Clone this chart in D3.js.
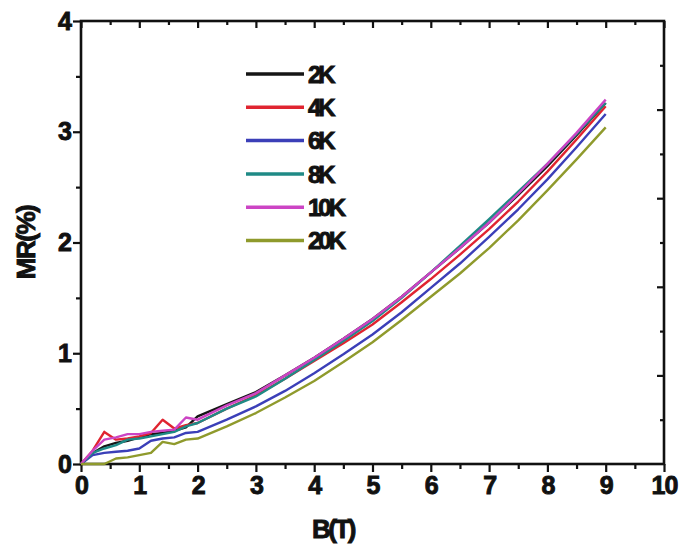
<!DOCTYPE html>
<html>
<head>
<meta charset="utf-8">
<script src="https://cdn.jsdelivr.net/npm/d3@7"></script>
<style>
  body { margin: 0; background: #fff; }
  text { font-family: "Liberation Sans", Arial, sans-serif; font-weight: bold; fill: #111; stroke: #111; stroke-width: 0.9px; }
</style>
</head>
<body>
<div id="chart"></div>
<script>
// magnetic field (T)
var fieldB = [0, 0.2, 0.4, 0.6, 0.8, 1.0, 1.2, 1.4, 1.6, 1.8, 2.0, 2.5, 3, 3.5, 4, 4.5, 5, 5.5, 6, 6.5, 7, 7.5, 8, 8.5, 9];

// MR (%) for each temperature
var mr2K  = [0, 0.10, 0.16, 0.19, 0.21, 0.24, 0.27, 0.28, 0.30, 0.33, 0.43, 0.54, 0.65, 0.80, 0.96, 1.13, 1.31, 1.51, 1.73, 1.95, 2.18, 2.43, 2.69, 2.97, 3.26];
var mr4K  = [0, 0.12, 0.29, 0.22, 0.23, 0.25, 0.28, 0.40, 0.32, 0.35, 0.37, 0.50, 0.62, 0.77, 0.93, 1.09, 1.26, 1.46, 1.67, 1.89, 2.12, 2.37, 2.64, 2.93, 3.23];
var mr6K  = [0, 0.08, 0.10, 0.11, 0.12, 0.14, 0.21, 0.23, 0.24, 0.28, 0.29, 0.40, 0.52, 0.66, 0.82, 0.99, 1.17, 1.37, 1.59, 1.81, 2.05, 2.30, 2.57, 2.86, 3.16];
var mr8K  = [0, 0.10, 0.14, 0.17, 0.22, 0.23, 0.25, 0.27, 0.29, 0.34, 0.37, 0.50, 0.61, 0.77, 0.94, 1.11, 1.29, 1.50, 1.73, 1.97, 2.21, 2.46, 2.71, 2.98, 3.26];
var mr10K = [0, 0.12, 0.22, 0.24, 0.27, 0.27, 0.29, 0.30, 0.31, 0.42, 0.40, 0.53, 0.64, 0.80, 0.96, 1.13, 1.31, 1.51, 1.73, 1.95, 2.18, 2.44, 2.71, 2.99, 3.29];
var mr20K = [0, 0.00, 0.00, 0.05, 0.06, 0.08, 0.10, 0.20, 0.18, 0.22, 0.23, 0.34, 0.46, 0.60, 0.75, 0.92, 1.10, 1.30, 1.51, 1.72, 1.95, 2.20, 2.47, 2.75, 3.04];

var seriesLabels = ["2K", "4K", "6K", "8K", "10K", "20K"];
var seriesValues = [mr2K, mr4K, mr6K, mr8K, mr10K, mr20K];
var seriesColors = ["#151515", "#e02430", "#3b3fb8", "#1f8a86", "#cc44c4", "#8f9a2c"];

var xTicks = [0, 1, 2, 3, 4, 5, 6, 7, 8, 9, 10];
var yTicks = [0, 1, 2, 3, 4];

// set the dimensions and margins of the graph
var margin = {top: 21, right: 19, bottom: 80, left: 81},
    width = 683 - margin.left - margin.right,
    height = 544 - margin.top - margin.bottom;

var x = d3.scaleLinear().domain([0, 10]).range([0, width]);
var y = d3.scaleLinear().domain([0, 4]).range([height, 0]);
// right frame carries its own ten-step tick marks
var yRight = d3.scaleLinear().domain([0, 10]).range([height, 0]);

var svg = d3.select("#chart").append("svg")
    .attr("width", 683)
    .attr("height", 544)
  .append("g")
    .attr("transform", "translate(" + margin.left + "," + margin.top + ")");

var halfSteps = d3.range(0.5, 10, 1);
var yHalf = d3.range(0.5, 4, 1);

function styleAxis(g) {
  g.select(".domain").remove();
  g.selectAll("line").attr("stroke", "#111").attr("stroke-width", 2.2);
  g.selectAll("text").attr("font-size", 25).attr("letter-spacing", "-1px");
}

// bottom axis (outward ticks)
svg.append("g")
    .attr("transform", "translate(0," + height + ")")
    .call(d3.axisBottom(x).tickValues(xTicks).tickSize(8).tickPadding(4).tickFormat(d3.format("d")))
    .call(styleAxis);
svg.append("g")
    .attr("transform", "translate(0," + height + ")")
    .call(d3.axisBottom(x).tickValues(halfSteps).tickSize(5).tickFormat(""))
    .call(styleAxis);

// left axis
svg.append("g")
    .call(d3.axisLeft(y).tickValues(yTicks).tickSize(8).tickPadding(2).tickFormat(d3.format("d")))
    .call(styleAxis);
svg.append("g")
    .call(d3.axisLeft(y).tickValues(yHalf).tickSize(5).tickFormat(""))
    .call(styleAxis);

// top axis (inward ticks)
svg.append("g")
    .call(d3.axisTop(x).tickValues(xTicks).tickSize(-7).tickFormat(""))
    .call(styleAxis);
svg.append("g")
    .call(d3.axisTop(x).tickValues(halfSteps).tickSize(-4).tickFormat(""))
    .call(styleAxis);

// right axis (inward ticks)
svg.append("g")
    .attr("transform", "translate(" + width + ",0)")
    .call(d3.axisRight(yRight).tickValues([2, 4, 6, 8]).tickSize(-7).tickFormat(""))
    .call(styleAxis);
svg.append("g")
    .attr("transform", "translate(" + width + ",0)")
    .call(d3.axisRight(yRight).tickValues([1, 3, 5, 7, 9]).tickSize(-4).tickFormat(""))
    .call(styleAxis);

// frame
svg.append("rect")
    .attr("width", width)
    .attr("height", height)
    .attr("fill", "none")
    .attr("stroke", "#111")
    .attr("stroke-width", 2.6);

// the curves
var line = d3.line()
    .x(function(d, i) { return x(fieldB[i]); })
    .y(function(d) { return y(d); });

seriesValues.forEach(function(vals, k) {
  svg.append("path")
      .datum(vals)
      .attr("fill", "none")
      .attr("stroke", seriesColors[k])
      .attr("stroke-width", 2.4)
      .attr("stroke-linejoin", "round")
      .attr("d", line);
});

// legend
var legend = svg.append("g").attr("transform", "translate(165,53)");
seriesLabels.forEach(function(lbl, k) {
  var row = legend.append("g").attr("transform", "translate(0," + (k * 33.3) + ")");
  row.append("line")
      .attr("x1", 0).attr("x2", 58)
      .attr("stroke", seriesColors[k])
      .attr("stroke-width", 3.5);
  row.append("text")
      .attr("x", 62)
      .attr("dy", "0.36em")
      .attr("font-size", 24)
      .attr("letter-spacing", "-3px")
      .text(lbl);
});

// axis labels
svg.append("text")
    .attr("x", 252)
    .attr("y", height + 74)
    .attr("font-size", 26)
    .attr("letter-spacing", "-2.5px")
    .style("text-anchor", "middle")
    .text("B(T)");

svg.append("text")
    .attr("transform", "rotate(-90)")
    .attr("x", -(height / 2))
    .attr("y", -46)
    .attr("font-size", 26)
    .attr("letter-spacing", "-1.5px")
    .style("text-anchor", "middle")
    .text("MR(%)");
</script>
</body>
</html>
